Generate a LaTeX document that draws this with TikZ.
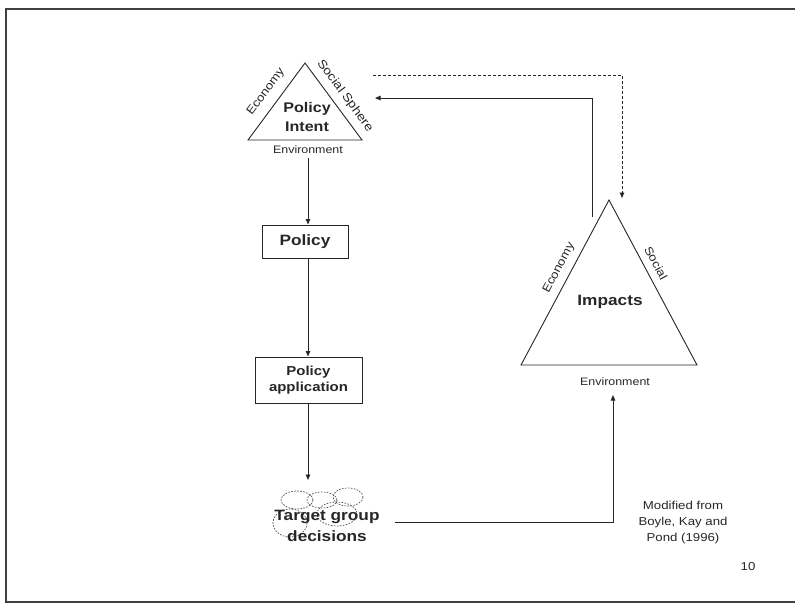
\documentclass[tikz,border=0pt]{standalone}
\usepackage{fontspec}
\setmainfont[FakeStretch=1.15]{Liberation Sans}
\usetikzlibrary{arrows.meta}
\begin{document}
\begin{tikzpicture}[x=1pt,y=-1pt,
  ink/.style={draw=black!85, line width=0.9pt},
  flow/.style={ink, -{Triangle[length=5.5pt,width=4.5pt]}},
  dflow/.style={flow, dash pattern=on 3pt off 2pt},
  stepbox/.style={draw=black!85, line width=1pt, align=center, text=black!85, inner sep=0pt},
  lbl/.style={text=black!85, inner sep=0pt, font=\fontsize{10.8}{12}\selectfont},
  side/.style={text=black!85, inner sep=0pt, font=\fontsize{11.5}{13}\selectfont},
  cloud/.style={draw=black!70, line width=0.7pt, dash pattern=on 1.6pt off 1.4pt},
]
\useasboundingbox (0,0) rectangle (795,603);

% page frame
\draw[draw=black!75, line width=1.3pt] (795,9) -- (6,9) -- (6,602) -- (795,602);

% policy intent triangle
\coordinate (pa) at (305,63);
\coordinate (pl) at (248,140);
\coordinate (pr) at (362,140);
\draw[ink] (pa) -- (pl) -- (pr) -- cycle;
\node[text=black!85, align=center, font=\fontsize{14}{19}\selectfont\bfseries] (intent) at (307,117) {Policy\\Intent};
\node[side, rotate=53.5] (ieco) at (266,92) {Economy};
\node[side, rotate=-53.5, font=\fontsize{12}{13}\selectfont] (isoc) at (345,96) {Social Sphere};
\node[lbl] (ienv) at (308,150) {Environment};

% policy chain
\node[stepbox, minimum width=86pt, minimum height=33pt, font=\fontsize{15}{17}\selectfont\bfseries] (policy) at (305,241.5) {Policy};
\node[stepbox, minimum width=107pt, minimum height=46pt, font=\fontsize{13}{16.5}\selectfont\bfseries] (app) at (308.5,380) {Policy\\application};

% target group cloud
\draw[cloud] (297,500) ellipse [x radius=16, y radius=9];
\draw[cloud] (322,500) ellipse [x radius=15, y radius=8];
\draw[cloud] (348,497) ellipse [x radius=15, y radius=9];
\draw[cloud] (337,514) ellipse [x radius=20, y radius=12];
\draw[cloud] (290,523) ellipse [x radius=17, y radius=14];
\node[text=black!85, align=center, font=\fontsize{15}{21}\selectfont\bfseries] (target) at (327,526) {Target group\\decisions};

% impacts triangle
\coordinate (ma) at (609,200);
\coordinate (ml) at (521,365);
\coordinate (mr) at (697,365);
\draw[ink] (ma) -- (ml) -- (mr) -- cycle;
\node[text=black!85, font=\fontsize{15}{17}\selectfont\bfseries] (impacts) at (610,302) {Impacts};
\node[side, rotate=62] (meco) at (559,268) {Economy};
\node[side, rotate=-62] (msoc) at (656,263) {Social};
\node[lbl] (menv) at (615,382) {Environment};

% connector end points
\coordinate (ienvs) at (308,158);
\coordinate (tdown) at (308,480);
\coordinate (t0) at (395,522);
\coordinate (menvs) at (613,395);
\coordinate (up0) at (592,217);
\coordinate (up1) at (592,98);
\coordinate (upend) at (375,98);
\coordinate (d0) at (373,75);
\coordinate (d1) at (622,75);
\coordinate (dend) at (622,198);

\draw[flow] (ienvs) -- (policy.north -| ienvs);
\draw[flow] (policy.south -| ienvs) -- (app.north -| ienvs);
\draw[flow] (app.south -| ienvs) -- (tdown);
\draw[flow] (t0) -| (menvs);
\draw[flow] (up0) -- (up1) -- (upend);
\draw[dflow] (d0) -- (d1) -- (dend);

% credit and page number
\node[text=black!85, align=center, font=\fontsize{11.5}{16}\selectfont] (credit) at (683,523) {Modified from\\Boyle, Kay and\\Pond (1996)};
\node[text=black!85, font=\fontsize{11.5}{13}\selectfont] (pageno) at (748,567) {10};
\end{tikzpicture}
\end{document}
